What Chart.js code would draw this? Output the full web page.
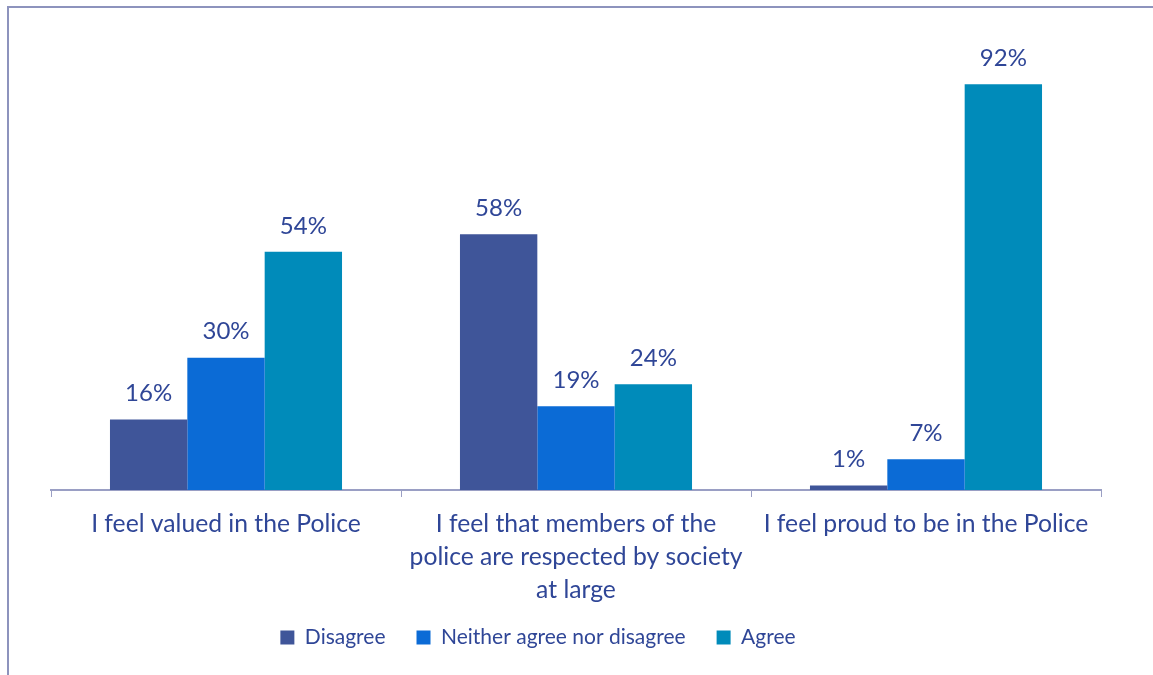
<!DOCTYPE html>
<html>
<head>
<meta charset="utf-8">
<script src="https://cdn.jsdelivr.net/npm/chart.js@4.4.1/dist/chart.umd.min.js"></script>
<style>
    html, body { margin: 0; padding: 0; background: #ffffff; }
    #wrap { position: absolute; left: 0; top: 0; width: 1153px; height: 675px; }
    #frame { position: absolute; left: 7px; top: 6px; width: 1160px; height: 680px;
             border-left: 2px solid #8d93bd; border-top: 2px solid #8d93bd; }
</style>
</head>
<body>
<div id="wrap">
    <canvas id="myChart" width="1153" height="675"></canvas>
    <div id="frame"></div>
</div>
<script>
const categories = [
    "I feel valued in the Police",
    ["I feel that members of the", "police are respected by society", "at large"],
    "I feel proud to be in the Police"
];
const seriesNames = ["Disagree", "Neither agree nor disagree", "Agree"];
const disagree = [16, 58, 1];
const neither = [30, 19, 7];
const agree = [54, 24, 92];

const textColor = "#2f4697";
const fontFamily = "Lato, 'Noto Sans', sans-serif";

// labels with % above each bar
const barLabels = {
    id: "barLabels",
    afterDatasetsDraw(chart) {
        const ctx = chart.ctx;
        ctx.save();
        ctx.fillStyle = textColor;
        ctx.font = "24px " + fontFamily;
        ctx.textAlign = "center";
        ctx.textBaseline = "middle";
        chart.data.datasets.forEach((ds, i) => {
            chart.getDatasetMeta(i).data.forEach((bar, j) => {
                ctx.fillText(ds.data[j] + "%", bar.x, bar.y - 26);
            });
        });
        ctx.restore();
    }
};

// move the legend a bit up and left, like in the original
const legendShift = {
    id: "legendShift",
    afterLayout(chart) {
        const lg = chart.legend;
        lg.top -= 22; lg.bottom -= 22;
        lg.left -= 38; lg.right -= 38;
    }
};

new Chart(document.getElementById("myChart").getContext("2d"), {
    type: "bar",
    data: {
        labels: categories,
        datasets: [
            { label: seriesNames[0], data: disagree, backgroundColor: "#3f5599" },
            { label: seriesNames[1], data: neither, backgroundColor: "#0b6bd6" },
            { label: seriesNames[2], data: agree, backgroundColor: "#008bba" }
        ]
    },
    options: {
        responsive: false,
        animation: false,
        categoryPercentage: 0.663,
        barPercentage: 1,
        layout: { padding: { left: 51, right: 52, top: 49, bottom: -5 } },
        scales: {
            x: {
                grid: { drawOnChartArea: false, tickLength: 7, color: "#9a9fc4", offset: true },
                border: { color: "#9a9fc4", width: 2 },
                ticks: { color: textColor, font: { size: 24.7, family: fontFamily, lineHeight: "33px" }, padding: 11, maxRotation: 0 }
            },
            y: { display: false, min: 0, max: 100 }
        },
        plugins: {
            legend: {
                position: "bottom",
                labels: { color: textColor, font: { size: 21, family: fontFamily }, boxWidth: 14, boxHeight: 14, padding: 31 }
            },
            tooltip: { enabled: false }
        }
    },
    plugins: [barLabels, legendShift]
});
</script>
</body>
</html>
